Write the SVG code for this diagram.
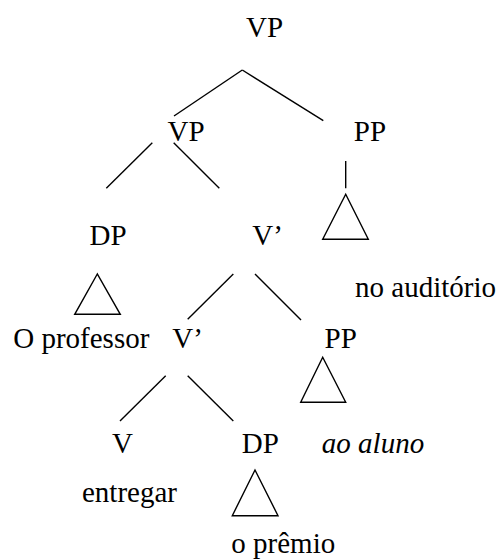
<svg xmlns="http://www.w3.org/2000/svg" width="501" height="559" viewBox="0 0 501 559">
<style>
text{font-size:29px;fill:#000}
.i{font-style:italic}
line,polygon{stroke:#000;stroke-width:1.4;fill:none}
</style>
<rect width="501" height="559" fill="#fff"/>
<g id="connectors">
<line x1="242.3" y1="70" x2="174" y2="116"/>
<line x1="242.3" y1="70" x2="323.3" y2="120.7"/>
<line x1="152.3" y1="142.7" x2="106.3" y2="188.3"/>
<line x1="173.7" y1="142.7" x2="219.3" y2="188.3"/>
<line x1="345.7" y1="161" x2="345.7" y2="188.3"/>
<line x1="233.3" y1="274" x2="187.7" y2="319.3"/>
<line x1="255" y1="274" x2="301" y2="320"/>
<line x1="165.7" y1="375.7" x2="120" y2="421"/>
<line x1="187.7" y1="375.7" x2="233.3" y2="421"/>
</g>
<g font-family="Liberation Serif, DejaVu Serif, serif">
<g id="vp-root"><text x="264.5" y="37.3" text-anchor="middle">VP</text></g>
<g id="vp"><text x="186" y="141" text-anchor="middle">VP</text></g>
<g id="pp-top"><text x="370" y="141" text-anchor="middle">PP</text>
<polygon points="345.7,194.3 322.7,239.3 368.3,239.3"/></g>
<g id="dp-subj"><text x="108" y="245" text-anchor="middle">DP</text>
<polygon points="97.3,274 74.7,314.3 120.3,314.3"/></g>
<g id="vbar-top"><text x="267.5" y="245" text-anchor="middle">V’</text></g>
<g id="no-auditorio"><text x="425.5" y="296.7" text-anchor="middle">no auditório</text></g>
<g id="o-professor"><text x="81.3" y="348.3" text-anchor="middle">O professor</text></g>
<g id="vbar"><text x="187.5" y="348.3" text-anchor="middle">V’</text></g>
<g id="pp-mid"><text x="340.7" y="348.3" text-anchor="middle">PP</text>
<polygon points="322.7,357.3 300.7,402.3 345.7,402.3"/></g>
<g id="v"><text x="122.5" y="452.7" text-anchor="middle">V</text></g>
<g id="dp-obj"><text x="260.3" y="452.7" text-anchor="middle">DP</text>
<polygon points="255,470 232.3,515.7 278,515.7"/></g>
<g id="ao-aluno"><text class="i" x="373" y="452.7" text-anchor="middle">ao aluno</text></g>
<g id="entregar"><text x="129.5" y="502.3" text-anchor="middle">entregar</text></g>
<g id="o-premio"><text x="283.3" y="553" text-anchor="middle">o prêmio</text></g>
</g>
</svg>
